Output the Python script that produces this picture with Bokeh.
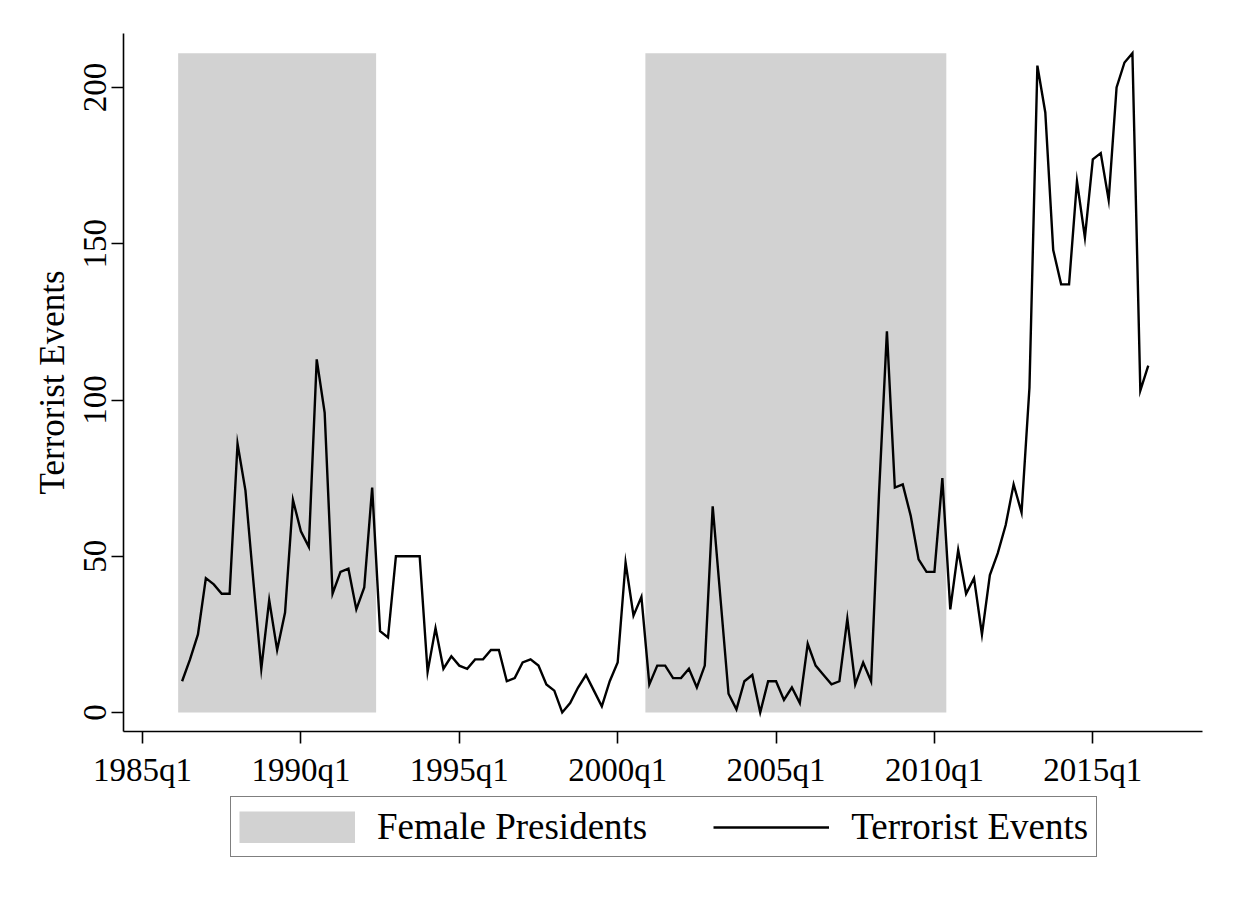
from bokeh.plotting import figure
from bokeh.layouts import column
from bokeh.models import Range1d, FixedTicker, Legend, LegendItem, ColumnDataSource
from bokeh.embed import file_html
from bokeh.resources import INLINE

# ---------------- data ----------------
start_quarter = "1986q2"
terrorist_events = [
    10, 17, 25, 43, 41, 38, 38, 86, 71, 42, 14, 36, 20, 32, 68, 58, 53, 113, 96,      # 1986q2-1990q4
    38, 45, 46, 33, 40, 72, 26, 24, 50, 50, 50, 50, 13, 27, 14, 18, 15, 14, 17, 17,  # 1991q1-1995q4
    20, 20, 10, 11, 16, 17, 15, 9, 7, 0, 3, 8, 12, 7, 2, 10, 16, 48, 31, 37,         # 1996q1-2000q4
    9, 15, 15, 11, 11, 14, 8, 15, 66, 36, 6, 1, 10, 12, 0, 10, 10, 4, 8, 3,          # 2001q1-2005q4
    22, 15, 12, 9, 10, 30, 9, 16, 10, 70, 122, 72, 73, 63, 49, 45, 45, 75, 33, 52,   # 2006q1-2010q4
    38, 43, 25, 44, 51, 60, 73, 64, 104, 207, 192, 148, 137, 137, 170, 152,          # 2011q1-2014q4
    177, 179, 164, 200, 208, 211, 103, 111,                                          # 2015q1-2016q4
]
female_presidents = [("1986q2", "1992q2"), ("2001q1", "2010q2")]
tick_labels = ["1985q1", "1990q1", "1995q1", "2000q1", "2005q1", "2010q1", "2015q1"]
y_ticks = [0, 50, 100, 150, 200]
legend_labels = ["Female Presidents", "Terrorist Events"]


def qindex(s):
    """Quarters since 1985q1."""
    yr, q = s.split("q")
    return (int(yr) - 1985) * 4 + int(q) - 1


x0 = qindex(start_quarter)
xs = [x0 + i for i in range(len(terrorist_events))]

shade_top = max(terrorist_events)
src_shade = ColumnDataSource(dict(
    left=[qindex(a) - 0.5 for a, b in female_presidents],
    right=[qindex(b) + 0.5 for a, b in female_presidents],
    top=[shade_top] * len(female_presidents),
    bottom=[0] * len(female_presidents),
))

# ---------------- main figure ----------------
FONT = "Liberation Serif"
GRAY = "#d2d2d2"
W = 1226

p = figure(
    width=W, height=793,
    output_backend="svg", toolbar_location=None,
    x_range=Range1d(-2.40, 133.85), y_range=Range1d(-6.08, 217.28),
    min_border_left=123, min_border_right=24, min_border_top=33, min_border_bottom=62,
)
p.outline_line_color = None
p.xgrid.visible = False
p.ygrid.visible = False
p.background_fill_color = "white"
p.border_fill_color = "white"

p.quad(left="left", right="right", top="top", bottom="bottom", source=src_shade,
       fill_color=GRAY, line_color=None)

p.line(xs, terrorist_events, line_color="black", line_width=2.4, line_join="miter")

for ax in (p.xaxis[0], p.yaxis[0]):
    ax.axis_line_color = "black"
    ax.axis_line_width = 1.6
    ax.major_tick_line_color = "black"
    ax.major_tick_line_width = 1.6
    ax.major_tick_out = 12
    ax.major_tick_in = 0
    ax.minor_tick_line_color = None
    ax.major_label_text_font = FONT
    ax.major_label_text_color = "black"
    ax.major_label_text_font_size = "33px"
    ax.axis_label_text_font = FONT
    ax.axis_label_text_font_style = "normal"
    ax.axis_label_text_color = "black"
    ax.axis_label_text_font_size = "35px"

p.xaxis.ticker = FixedTicker(ticks=[qindex(s) for s in tick_labels])
p.xaxis.major_label_overrides = {qindex(s): s for s in tick_labels}
p.xaxis.major_label_standoff = 8

p.yaxis.ticker = FixedTicker(ticks=y_ticks)
p.yaxis.major_label_orientation = "vertical"
p.yaxis.major_label_standoff = 6
p.yaxis.axis_label = "Terrorist Events"
p.yaxis.axis_label_standoff = 9

# ---------------- legend strip ----------------
LH = 70
q = figure(
    width=W, height=LH, output_backend="svg", toolbar_location=None,
    x_range=Range1d(0, W), y_range=Range1d(0, LH),
    x_axis_type=None, y_axis_type=None,
    min_border_left=0, min_border_right=0, min_border_top=0, min_border_bottom=0,
)
q.outline_line_color = None
q.xgrid.visible = False
q.ygrid.visible = False
q.background_fill_color = "white"
q.border_fill_color = "white"

nan = float("nan")
r_shade_key = q.line([nan, nan], [nan, nan], line_color=GRAY, line_width=32, line_cap="butt")
r_line_key = q.line([nan, nan], [nan, nan], line_color="black", line_width=2.4)

legend = Legend(
    items=[LegendItem(label=legend_labels[0], renderers=[r_shade_key]),
           LegendItem(label=legend_labels[1], renderers=[r_line_key])],
    orientation="horizontal", location=(107, 6),
    glyph_width=116, glyph_height=32, label_standoff=22, spacing=66,
    padding=8, margin=0,
    label_text_font=FONT, label_text_font_size="37px", label_text_color="black",
    border_line_color="black", border_line_width=1.6,
    background_fill_color="white", background_fill_alpha=1.0,
)
q.add_layout(legend, "center")

layout = column(p, q, spacing=0)
open("out.html", "w").write(file_html(layout, INLINE))
